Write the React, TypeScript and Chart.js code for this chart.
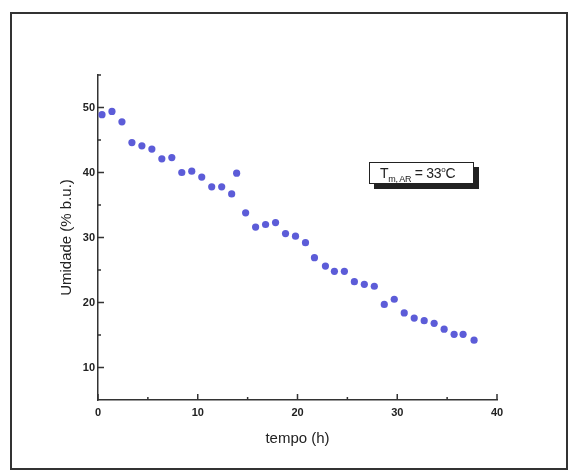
import React, { useEffect, useRef } from "react";
import { Chart, registerables } from "chart.js";

Chart.register(...registerables);

const tempo = [0.4, 1.4, 2.4, 3.4, 4.4, 5.4, 6.4, 7.4, 8.4, 9.4, 10.4, 11.4, 12.4, 13.4, 13.9, 14.8, 15.8, 16.8, 17.8, 18.8, 19.8, 20.8, 21.7, 22.8, 23.7, 24.7, 25.7, 26.7, 27.7, 28.7, 29.7, 30.7, 31.7, 32.7, 33.7, 34.7, 35.7, 36.6, 37.7];
const umidade = [48.9, 49.4, 47.8, 44.6, 44.1, 43.6, 42.1, 42.3, 40.0, 40.2, 39.3, 37.8, 37.8, 36.7, 39.9, 33.8, 31.6, 32.0, 32.3, 30.6, 30.2, 29.2, 26.9, 25.6, 24.8, 24.8, 23.2, 22.8, 22.5, 19.7, 20.5, 18.4, 17.6, 17.2, 16.8, 15.9, 15.1, 15.1, 14.2];
const xTicks = [0, 10, 20, 30, 40];
const yTicks = [10, 20, 30, 40, 50];
const xMinor = [5, 15, 25, 35];
const yMinor = [15, 25, 35, 45, 55];

const inwardTicks = {
  id: "inwardTicks",
  afterDraw(chart: any) {
    const ctx = chart.ctx;
    const xs = chart.scales.x;
    const ys = chart.scales.y;
    const bottom = chart.chartArea.bottom;
    const left = chart.chartArea.left;
    ctx.save();
    ctx.strokeStyle = "#333";
    ctx.lineWidth = 1.5;
    ctx.beginPath();
    xTicks.forEach((v) => {
      const px = xs.getPixelForValue(v);
      ctx.moveTo(px, bottom);
      ctx.lineTo(px, bottom - 6);
    });
    xMinor.forEach((v) => {
      const px = xs.getPixelForValue(v);
      ctx.moveTo(px, bottom);
      ctx.lineTo(px, bottom - 3);
    });
    yTicks.forEach((v) => {
      const py = ys.getPixelForValue(v);
      ctx.moveTo(left, py);
      ctx.lineTo(left + 6, py);
    });
    yMinor.forEach((v) => {
      const py = ys.getPixelForValue(v);
      ctx.moveTo(left, py);
      ctx.lineTo(left + 3, py);
    });
    ctx.stroke();
    ctx.restore();
  },
};

export default function App() {
  const ref = useRef<HTMLCanvasElement>(null);
  useEffect(() => {
    if (!ref.current) return;
    const chart = new Chart(ref.current, {
      type: "scatter",
      data: {
        datasets: [
          {
            data: tempo.map((t, i) => ({ x: t, y: umidade[i] })),
            backgroundColor: "#5c5cd8",
            borderColor: "#5c5cd8",
            pointRadius: 3.6,
            pointBorderWidth: 0,
          },
        ],
      },
      options: {
        animation: false,
        responsive: false,
        maintainAspectRatio: false,
        layout: { padding: { top: 75, right: 71, left: 58, bottom: 26 } },
        plugins: { legend: { display: false }, tooltip: { enabled: false } },
        scales: {
          x: {
            type: "linear",
            min: 0,
            max: 40,
            afterBuildTicks: (s: any) => {
              s.ticks = xTicks.map((v) => ({ value: v }));
            },
            afterFit: (s: any) => {
              s.height = 48;
            },
            grid: { display: false, drawTicks: false },
            border: { display: true, color: "#333", width: 1.5 },
            ticks: {
              padding: 6,
              color: "#222",
              font: { family: "Liberation Sans", size: 11, weight: "bold" },
            },
            title: {
              display: true,
              text: "tempo (h)",
              color: "#222",
              font: { family: "Liberation Sans", size: 15 },
              padding: { top: 0, bottom: 0 },
            },
          },
          y: {
            type: "linear",
            min: 5,
            max: 55,
            afterBuildTicks: (s: any) => {
              s.ticks = yTicks.map((v) => ({ value: v }));
            },
            afterFit: (s: any) => {
              s.width = 40;
            },
            grid: { display: false, drawTicks: false },
            border: { display: true, color: "#333", width: 1.5 },
            ticks: {
              padding: 3,
              color: "#222",
              font: { family: "Liberation Sans", size: 11, weight: "bold" },
            },
            title: {
              display: true,
              text: "Umidade (% b.u.)",
              color: "#222",
              font: { family: "Liberation Sans", size: 15 },
              padding: { top: 0, bottom: 0 },
            },
          },
        },
      },
      plugins: [inwardTicks],
    });
    return () => chart.destroy();
  }, []);

  return (
    <div style={{ position: "absolute", left: 0, top: 0, width: 568, height: 474, background: "#fff" }}>
      <div
        style={{
          position: "absolute",
          left: 10,
          top: 12,
          width: 554,
          height: 454,
          border: "2px solid #333",
        }}
      />
      <canvas ref={ref} width={568} height={474} style={{ position: "absolute", left: 0, top: 0 }} />
      <div
        style={{
          position: "absolute",
          left: 369,
          top: 162,
          width: 93,
          height: 20,
          border: "1px solid #222",
          background: "#fff",
          boxShadow: "5px 5px 0 #222",
          fontFamily: "Liberation Sans",
          fontSize: 14,
          color: "#222",
          lineHeight: "20px",
          paddingLeft: 10,
          boxSizing: "content-box",
          whiteSpace: "nowrap",
          letterSpacing: -0.3,
        }}
      >
        T<span style={{ fontSize: 9, position: "relative", top: 4 }}>m, AR</span> = 33<span style={{ fontSize: 8, position: "relative", top: -6 }}>o</span>C
      </div>
    </div>
  );
}
